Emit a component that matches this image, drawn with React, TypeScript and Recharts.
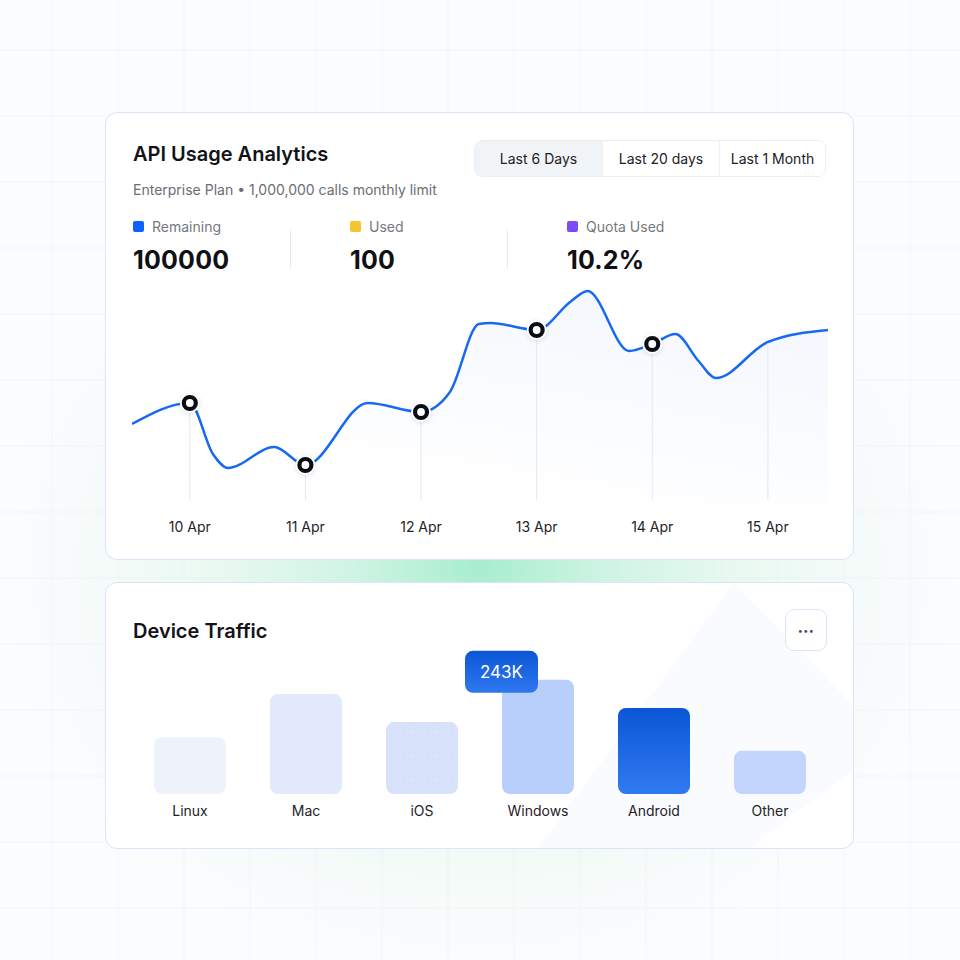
import React from "react";
import {
  ComposedChart,
  Area,
  Line,
  XAxis,
  YAxis,
  BarChart,
  Bar,
  Cell,
  LabelList,
} from "recharts";

// line chart: x in days from 10 Apr, y = calls (arbitrary units)
const DAYS = [-0.5, 0, 0.2, 0.33, 0.73, 1, 1.54, 2, 2.25, 2.5, 2.6, 3, 3.3, 3.44, 3.8, 4, 4.2, 4.4, 4.55, 5, 5.52];
const CALLS = [82, 103, 52, 38, 59, 41, 103, 94, 114, 182, 183, 176, 205, 215, 155, 162, 172, 145, 128, 164, 176];
const DATE_LABELS = ["10 Apr", "11 Apr", "12 Apr", "13 Apr", "14 Apr", "15 Apr"];
const MARKED_DAYS = [0, 1, 2, 3, 4];

// bar chart
const DEVICES = ["Linux", "Mac", "iOS", "Windows", "Android", "Other"];
const TRAFFIC = [121, 213, 153, 243, 183, 92];
const BAR_FILLS = ["#eef2fb", "#e1e9fa", "url(#iosDots)", "#b8cefb", "url(#androidGrad)", "#c3d5fc"];

const STATS = [
  { label: "Remaining", value: "100000", color: "#0f62fe" },
  { label: "Used", value: "100", color: "#f6c42e" },
  { label: "Quota Used", value: "10.2%", color: "#7b4cf5" },
];
const TABS = ["Last 6 Days", "Last 20 days", "Last 1 Month"];

const lineData = DAYS.map((d, i) => ({ day: d, calls: CALLS[i] }));
const barData = DEVICES.map((d, i) => ({ device: d, traffic: TRAFFIC[i] }));

const FONT = "Inter, 'Noto Sans', sans-serif";
const LINE_W = 696;
const LINE_H = 265;
const AXIS_H = 40;
const PLOT_BOTTOM = LINE_H - AXIS_H;

const card: React.CSSProperties = {
  position: "absolute",
  left: 105,
  width: 747,
  background: "#fff",
  border: "1px solid #dae5f8",
  borderRadius: 12,
  overflow: "hidden",
};

const renderDot = (props: any) => {
  const { cx, cy, payload, index } = props;
  const d = payload.day;
  if (!Number.isInteger(d)) return <g key={index} />;
  const marked = MARKED_DAYS.includes(d);
  return (
    <g key={index}>
      <line x1={cx} x2={cx} y1={cy + (marked ? 9 : 1)} y2={PLOT_BOTTOM - 6} stroke="#e2e7f1" strokeWidth={1} />
      {marked && (
        <>
          <circle cx={cx} cy={cy} r={10} fill="#fff" style={{ filter: "drop-shadow(0 1px 2px rgba(0,0,0,0.12))" }} />
          <circle cx={cx} cy={cy} r={6} fill="#fff" stroke="#0a0d14" strokeWidth={4.2} />
        </>
      )}
    </g>
  );
};

const renderBadge = (props: any) => {
  const { x, y, value, index } = props;
  if (index !== 3) return null;
  const bx = x - 37;
  const by = y - 29;
  return (
    <g>
      <rect x={bx} y={by} width={73} height={42} rx={8} fill="url(#badgeGrad)" />
      <text x={bx + 36.5} y={by + 21} textAnchor="middle" dominantBaseline="central" fill="#fff" fontSize={17} fontFamily={FONT}>
        {`${value}K`}
      </text>
    </g>
  );
};

const Background = () => {
  const xs = Array.from({ length: 15 }, (_, i) => 52 + 66 * i);
  const ys = Array.from({ length: 15 }, (_, i) => 50 + 66 * i);
  return (
    <svg width={960} height={960} style={{ position: "absolute", left: 0, top: 0 }}>
      <defs>
        <radialGradient id="glow" cx="0.5" cy="0.59" r="0.5" gradientTransform="translate(0.5 0.59) scale(1 0.85) translate(-0.5 -0.59)">
          <stop offset="0" stopColor="#a6edcf" />
          <stop offset="0.25" stopColor="#cdf4e2" />
          <stop offset="0.55" stopColor="#eaf9f2" />
          <stop offset="0.85" stopColor="#f7fbfb" />
          <stop offset="1" stopColor="#fbfcfe" />
        </radialGradient>
      </defs>
      <rect width={960} height={960} fill="url(#glow)" />
      {xs.map((x) => (
        <line key={"x" + x} x1={x} x2={x} y1={0} y2={960} stroke="#dfe6ea" strokeOpacity={0.25} strokeWidth={1} />
      ))}
      {ys.map((y) => (
        <line key={"y" + y} x1={0} x2={960} y1={y} y2={y} stroke="#dfe6ea" strokeOpacity={0.25} strokeWidth={1} />
      ))}
    </svg>
  );
};

export default function App() {
  return (
    <div style={{ position: "absolute", left: 0, top: 0, width: 960, height: 960, overflow: "hidden", fontFamily: FONT }}>
      <Background />

      {/* API usage card */}
      <div style={{ ...card, top: 112, height: 446 }}>
        <div style={{ position: "absolute", left: 27, top: 29, fontSize: 20, fontWeight: 600, color: "#111318" }}>
          API Usage Analytics
        </div>
        <div style={{ position: "absolute", left: 27, top: 68, fontSize: 14, color: "#6a6e75" }}>
          Enterprise Plan • 1,000,000 calls monthly limit
        </div>

        <div
          style={{
            position: "absolute",
            left: 368,
            top: 27,
            height: 35,
            display: "flex",
            border: "1px solid #e9eef2",
            borderRadius: 8,
            overflow: "hidden",
            fontSize: 14,
            color: "#1d2026",
          }}
        >
          {TABS.map((t, i) => (
            <div
              key={t}
              style={{
                width: [127, 116, 105][i],
                display: "flex",
                alignItems: "center",
                justifyContent: "center",
                background: i === 0 ? "#f1f4f6" : "#fff",
                borderLeft: i > 0 ? "1px solid #eef2f5" : "none",
              }}
            >
              {t}
            </div>
          ))}
        </div>

        {STATS.map((s, i) => (
          <div key={s.label} style={{ position: "absolute", left: 27 + 217 * i, top: 105 }}>
            <div style={{ display: "flex", alignItems: "center", fontSize: 14, color: "#75787e" }}>
              <span style={{ width: 11, height: 11, borderRadius: 2, background: s.color, marginRight: 8 }} />
              {s.label}
            </div>
            <div style={{ fontSize: 25, fontWeight: 700, color: "#0f1115", marginTop: 10, letterSpacing: 0.2 }}>{s.value}</div>
          </div>
        ))}
        <div style={{ position: "absolute", left: 184, top: 116, width: 1, height: 40, background: "#e5eaf3" }} />
        <div style={{ position: "absolute", left: 401, top: 116, width: 1, height: 40, background: "#e5eaf3" }} />

        <div style={{ position: "absolute", left: 26, top: 168 }}>
          <ComposedChart width={LINE_W} height={LINE_H} data={lineData} margin={{ top: 0, right: 0, bottom: 0, left: 0 }}>
            <defs>
              <linearGradient id="areaGrad" x1="0.8" y1="0" x2="0.25" y2="1">
                <stop offset="0" stopColor="#e2eafb" stopOpacity={0.7} />
                <stop offset="0.6" stopColor="#eef3fd" stopOpacity={0.35} />
                <stop offset="1" stopColor="#ffffff" stopOpacity={0} />
              </linearGradient>
            </defs>
            <XAxis
              dataKey="day"
              type="number"
              domain={[-0.5, 5.5]}
              ticks={[0, 1, 2, 3, 4, 5]}
              tickFormatter={(v: number) => DATE_LABELS[v]}
              axisLine={false}
              tickLine={false}
              height={AXIS_H}
              tickMargin={10}
              tick={{ fontSize: 14, fill: "#1f2228", fontFamily: FONT }}
            />
            <YAxis hide domain={[0, 225]} />
            <Area
              type="monotone"
              dataKey="calls"
              stroke="none"
              fill="url(#areaGrad)"
              isAnimationActive={false}
            />
            <Line
              type="monotone"
              dataKey="calls"
              stroke="#1769f0"
              strokeWidth={2.5}
              dot={renderDot}
              activeDot={false}
              isAnimationActive={false}
            />
          </ComposedChart>
        </div>
      </div>

      {/* Device traffic card */}
      <div style={{ ...card, top: 582, height: 265 }}>
        <svg width={747} height={265} style={{ position: "absolute", left: 0, top: 0 }}>
          <polygon points="628,0 747,122 747,188 662,250 645,265 432,265" fill="#f9fbfe" />
        </svg>
        <div style={{ position: "absolute", left: 27, top: 36, fontSize: 20, fontWeight: 600, color: "#111318" }}>
          Device Traffic
        </div>
        <div
          style={{
            position: "absolute",
            left: 679,
            top: 26,
            width: 40,
            height: 40,
            border: "1px solid #dbe5f7",
            borderRadius: 9,
            background: "#fff",
            display: "flex",
            alignItems: "center",
            justifyContent: "center",
            fontSize: 9,
            color: "#4a4d55",
            letterSpacing: 0.5,
          }}
        >
          •••
        </div>
        <div style={{ position: "absolute", left: 26, top: 60 }}>
          <BarChart width={LINE_W} height={181} data={barData} margin={{ top: 10, right: 0, bottom: 0, left: 0 }}>
            <defs>
              <linearGradient id="androidGrad" x1="0" y1="0" x2="0" y2="1">
                <stop offset="0" stopColor="#0b56d6" />
                <stop offset="1" stopColor="#307af1" />
              </linearGradient>
              <linearGradient id="badgeGrad" x1="0" y1="0" x2="0" y2="1">
                <stop offset="0" stopColor="#0b56d6" />
                <stop offset="1" stopColor="#2f78ee" />
              </linearGradient>
              <pattern id="iosDots" width="6" height="6" patternUnits="userSpaceOnUse">
                <rect width="6" height="6" fill="#d8e3fb" />
                <circle cx="1.5" cy="1.5" r="0.6" fill="#c6d5f6" />
              </pattern>
            </defs>
            <XAxis
              dataKey="device"
              axisLine={false}
              tickLine={false}
              height={30}
              tickMargin={6}
              tick={{ fontSize: 14, fill: "#1f2228", fontFamily: FONT }}
            />
            <YAxis hide domain={[0, 300]} />
            <Bar dataKey="traffic" barSize={72} radius={8} isAnimationActive={false}>
              {barData.map((d, i) => (
                <Cell key={d.device} fill={BAR_FILLS[i]} />
              ))}
              <LabelList dataKey="traffic" content={renderBadge} />
            </Bar>
          </BarChart>
        </div>
      </div>
    </div>
  );
}
